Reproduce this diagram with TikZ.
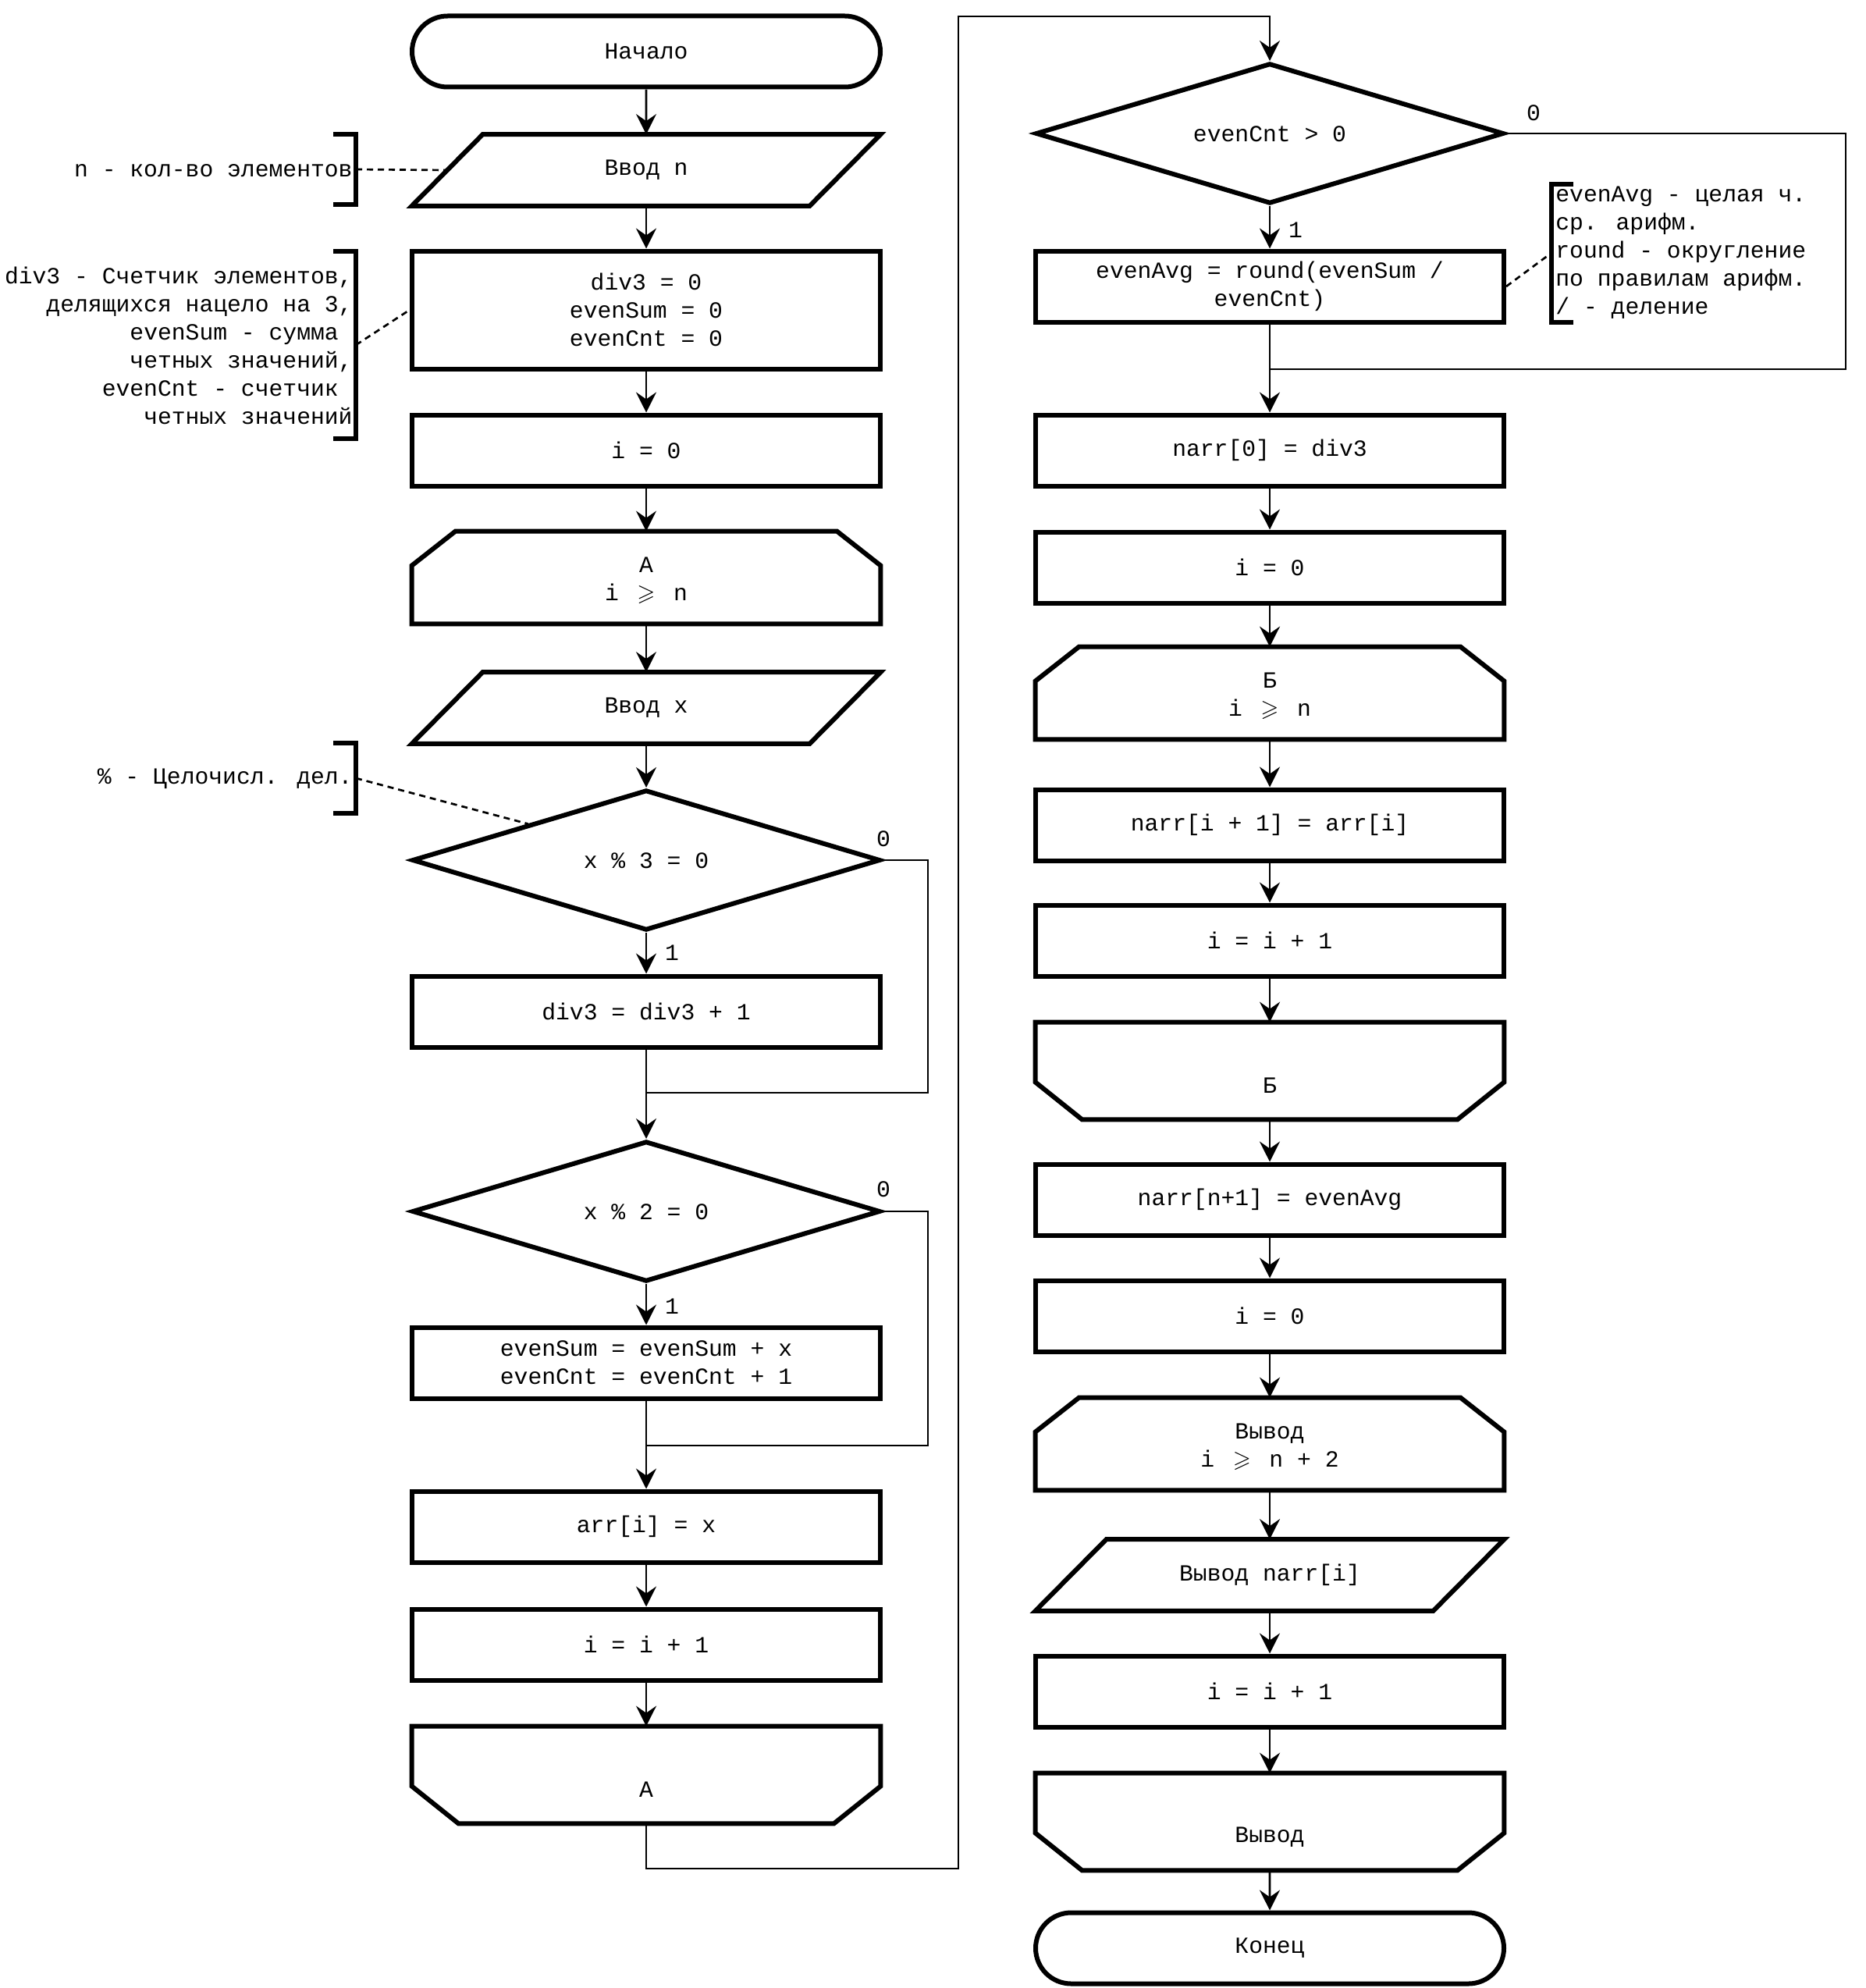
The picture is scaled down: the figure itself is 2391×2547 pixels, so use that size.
\documentclass[tikz,border=0pt]{standalone}
\usepackage{fontspec}
\setmainfont{Liberation Mono}
\usepackage{amssymb}
\usepackage{graphicx}
\usetikzlibrary{arrows.meta,calc,shapes.geometric,shapes.misc}
\newcommand{\geqsym}{\makebox[17.3pt]{$\geqslant$}}
\begin{document}
\begin{tikzpicture}[x=0.5pt,y=-0.5pt,
  every node/.style={font=\fontsize{14.85pt}{18pt}\selectfont, inner sep=0pt, align=center},
  shp/.style={line width=3pt, line join=miter},
  blk/.style={draw, shp, minimum width=300pt, minimum height=45.5pt},
  bare/.style={minimum width=300pt, minimum height=45.5pt},
  term/.style={draw, shp, rounded rectangle, minimum width=300pt, minimum height=45.5pt},
  dia/.style={draw, shp, diamond, minimum width=300pt, minimum height=90pt},
  lstart/.style={minimum width=300pt, minimum height=59pt},
  lend/.style={minimum width=300pt, minimum height=62pt},
  ln/.style={line width=1.35pt},
  flow/.style={ln, -{Stealth[length=13pt,width=13pt,inset=4.5pt]}},
  note/.style={line width=1.35pt, dash pattern=on 4pt off 3pt},
  brk/.style={line width=3pt},
  lbl/.style={font=\fontsize{14.85pt}{18pt}\selectfont}
]
\useasboundingbox (0,0) rectangle (2391,2547);
\newcommand{\para}[1]{\draw[shp] (#1.south west) -- ($(#1.north west)+(91,0)$) -- (#1.north east) -- ($(#1.south east)+(-91,0)$) -- cycle;}
\newcommand{\lsshape}[1]{\draw[shp] (#1.south west) -- ($(#1.north west)+(0,44)$) -- ($(#1.north west)+(56,0)$) -- ($(#1.north east)+(-56,0)$) -- ($(#1.north east)+(0,44)$) -- (#1.south east) -- cycle;}
\newcommand{\leshape}[1]{\draw[shp] (#1.north west) -- ($(#1.south west)+(0,-48)$) -- ($(#1.south west)+(60,0)$) -- ($(#1.south east)+(-60,0)$) -- ($(#1.south east)+(0,-48)$) -- (#1.north east) -- cycle;}

% ---------- left column ----------
\node[term] (start) at (828,66) {Начало};
\node[bare] (in1) at (828,218) {Ввод n};
\para{in1}
\node[blk, minimum height=75.5pt] (init) at (828,397) {div3 = 0\\evenSum = 0\\evenCnt = 0};
\node[blk] (i0a) at (828,577) {i = 0};
\node[lstart] (lsA) at (828,740) {};
\lsshape{lsA}
\node (lsAt) at (828,744) {А\\i \geqsym{} n};
\node[bare] (inx) at (828,907) {Ввод x};
\para{inx}
\node[dia] (d1) at (828,1102) {};
\node (d1t) at (828,1103) {x \% 3 = 0};
\node[blk] (b1) at (828,1296) {div3 = div3 + 1};
\coordinate (m1) at (828,1400);
\node[dia] (d2) at (828,1552) {};
\node (d2t) at (828,1553) {x \% 2 = 0};
\node[blk] (b2) at (828,1746) {evenSum = evenSum + x\\evenCnt = evenCnt + 1};
\coordinate (m2) at (828,1852);
\node[blk] (b3) at (828,1956) {arr[i] = x};
\node[blk] (b4) at (828,2107) {i = i + 1};
\node[lend] (leA) at (828,2274) {};
\leshape{leA}
\node (leAt) at (828,2293) {А};

% ---------- right column ----------
\node[dia] (d3) at (1627,171) {};
\node (d3t) at (1627,172) {evenCnt > 0};
\node[blk] (b5) at (1627,367) {evenAvg = round(evenSum /\\evenCnt)};
\coordinate (m3) at (1627,473);
\node[blk] (b6) at (1627,577) {narr[0] = div3};
\node[blk] (b7) at (1627,727) {i = 0};
\node[lstart] (lsB) at (1627,888) {};
\lsshape{lsB}
\node (lsBt) at (1627,892) {Б\\i \geqsym{} n};
\node[blk] (b8) at (1627,1057) {narr[i + 1] = arr[i]};
\node[blk] (b9) at (1627,1205) {i = i + 1};
\node[lend] (leB) at (1627,1372) {};
\leshape{leB}
\node (leBt) at (1627,1391) {Б};
\node[blk] (b10) at (1627,1537) {narr[n+1] = evenAvg};
\node[blk] (b11) at (1627,1686) {i = 0};
\node[lstart] (lsV) at (1627,1850) {};
\lsshape{lsV}
\node (lsVt) at (1627,1854) {Вывод\\i \geqsym{} n + 2};
\node[bare] (out1) at (1627,2018) {Вывод narr[i]};
\para{out1}
\node[blk] (b12) at (1627,2167) {i = i + 1};
\node[lend] (leV) at (1627,2334) {};
\leshape{leV}
\node (leVt) at (1627,2354) {Вывод};
\node[term] (fin) at (1627,2496) {Конец};

% ---------- connectors ----------
\draw[flow] (start) -- (in1);
\draw[flow] (in1) -- (init);
\draw[flow] (init) -- (i0a);
\draw[flow] (i0a) -- (lsA);
\draw[flow] (lsA) -- (inx);
\draw[flow] (inx) -- (d1);
\draw[flow] (d1.south) -- (b1);
\draw[ln] (b1.south) -- (m1);
\draw[ln] (d1.east) -- (1189,1102) -- (1189,1400) -- (m1);
\draw[flow] (m1) -- (d2.north);
\draw[flow] (d2.south) -- (b2);
\draw[ln] (b2.south) -- (m2);
\draw[ln] (d2.east) -- (1189,1552) -- (1189,1852) -- (m2);
\draw[flow] (m2) -- (b3);
\draw[flow] (b3) -- (b4);
\draw[flow] (b4) -- (leA);
\coordinate (r1) at (828,2394);
\coordinate (r2) at (1228,2394);
\coordinate (r3) at (1228,21);
\coordinate (r4) at (1627,21);
\draw[flow] (leA.south) -- (r1) -- (r2) -- (r3) -- (r4) -- (d3.north);
\draw[flow] (d3.south) -- (b5);
\draw[ln] (b5.south) -- (m3);
\draw[ln] (d3.east) -- (2365,171) -- (2365,473) -- (m3);
\draw[flow] (m3) -- (b6);
\draw[flow] (b6) -- (b7);
\draw[flow] (b7) -- (lsB);
\draw[flow] (lsB) -- (b8);
\draw[flow] (b8) -- (b9);
\draw[flow] (b9) -- (leB);
\draw[flow] (leB) -- (b10);
\draw[flow] (b10) -- (b11);
\draw[flow] (b11) -- (lsV);
\draw[flow] (lsV) -- (out1);
\draw[flow] (out1) -- (b12);
\draw[flow] (b12) -- (leV);
\draw[flow] (leV) -- (fin);

% ---------- branch labels ----------
\node[lbl] (l0a) at (1132,1075) {0};
\node[lbl] (l1a) at (861,1221) {1};
\node[lbl] (l0b) at (1132,1524) {0};
\node[lbl] (l1b) at (861,1674) {1};
\node[lbl] (l0c) at (1965,145) {0};
\node[lbl] (l1c) at (1660,295) {1};

% ---------- annotations ----------
\coordinate (br1) at (456,217);
\draw[brk] ($(br1)+(-29,-45)$) -- ($(br1)+(0,-45)$) -- ($(br1)+(0,45)$) -- ($(br1)+(-29,45)$);
\node[anchor=east] (t1) at (452,219) {n - кол-во элементов};
\draw[note] (br1) -- ($(in1.west)+(45,0)$);

\coordinate (br2) at (456,442);
\draw[brk] ($(br2)+(-29,-120)$) -- ($(br2)+(0,-120)$) -- ($(br2)+(0,120)$) -- ($(br2)+(-29,120)$);
\node[anchor=east, align=right] (t2) at (452,443) {div3 - Счетчик элементов,\\делящихся нацело на 3,\\evenSum - сумма\hphantom{0}\\четных значений,\\evenCnt - счетчик\hphantom{0}\\четных значений};
\draw[note] (br2) -- (init.west);

\coordinate (br3) at (456,997);
\draw[brk] ($(br3)+(-29,-45)$) -- ($(br3)+(0,-45)$) -- ($(br3)+(0,45)$) -- ($(br3)+(-29,45)$);
\node[anchor=east] (t3) at (452,998) {\% - Целочисл. дел.};
\draw[note] (br3) -- (d1.north west);

\coordinate (br4) at (1988,324);
\draw[brk] ($(br4)+(28,-88)$) -- ($(br4)+(0,-88)$) -- ($(br4)+(0,89)$) -- ($(br4)+(28,89)$);
\node[anchor=west, align=left] (t4) at (1993,324) {evenAvg - целая ч.\\ср. арифм.\\round - округление\\по правилам арифм.\\/ - деление};
\draw[note] (b5.east) -- (br4);
\end{tikzpicture}
\end{document}
